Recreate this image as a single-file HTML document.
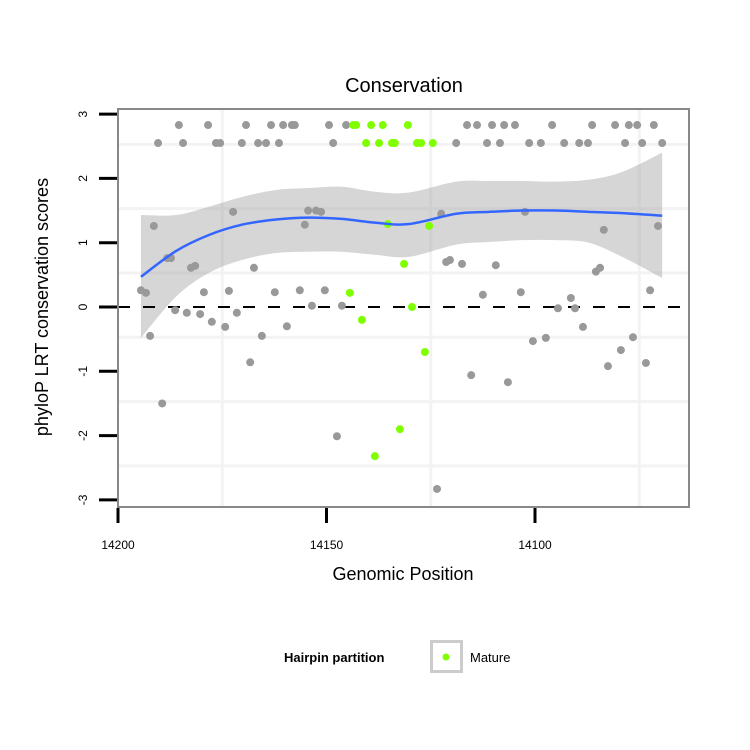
<!DOCTYPE html>
<html><head><meta charset="utf-8"><style>
body{margin:0;background:#fff;}
svg{display:block;font-family:"Liberation Sans",sans-serif;}
</style></head><body>
<svg id="chart" width="750" height="750">
<rect x="0" y="0" width="750" height="750" fill="#fff"/>
<g id="grid"></g>
<g id="ribbon"></g>
<g id="points"></g>
<g id="fitline"></g>
<rect x="118" y="109" width="571" height="398" fill="none" stroke="#888" stroke-width="2"/>
<g id="axes"></g>
<text x="404" y="92" font-size="20" text-anchor="middle">Conservation</text>
<text x="403" y="580" font-size="18" text-anchor="middle">Genomic Position</text>
<text transform="translate(48,307) rotate(-90)" font-size="18" text-anchor="middle">phyloP LRT conservation scores</text>
<g>
<text x="284" y="662" font-size="13" font-weight="bold">Hairpin partition</text>
<rect x="431.5" y="641.5" width="30" height="30" fill="#fff" stroke="#ccc" stroke-width="3"/>
<circle cx="446" cy="657" r="3.5" fill="#7FFF00"/>
<text x="470" y="662" font-size="13">Mature</text>
</g>
</svg>
<script>
const grayPos=[14194.5,14193.3,14191.4,14192.3,14189.4,14188.2,14187.3,14186.3,14183.5,14182.5,14181.5,14180.3,14179.4,14177.5,14174.3,14173.4,14172.4,14171.5,14168.3,14167.4,14165.5,14162.4,14159.5,14156.4,14155.2,14154.4,14152.5,14151.3,14153.5,14150.4,14147.5,14146.3,
14122.5,14123.5,14121.3,14120.4,14117.5,14115.3,14112.5,14109.4,14106.5,14103.4,14102.4,14100.5,14097.4,14094.5,14091.4,14090.4,14088.5,14085.4,14084.4,14083.5,14082.5,14079.4,14076.5,14073.4,14072.4,14070.5,
14185.4,14178.4,14169.3,14163.3,14160.4,14158.3,14157.6,14149.4,14145.3,14116.3,14113.9,14110.3,14107.4,14104.8,14095.9,14086.3,14080.8,14077.5,14075.5,14071.5,
14190.4,14184.4,14176.5,14175.5,14170.3,14166.4,14164.5,14161.4,14148.4,14118.9,14111.5,14108.4,14101.4,14098.6,14093.0,14089.4,14087.3,14078.4,14074.3,14069.5];
const grayVal=[0.26,0.22,1.26,-0.45,-1.50,0.76,0.76,-0.05,-0.09,0.61,0.64,-0.11,0.23,-0.23,-0.31,0.25,1.48,-0.09,-0.86,0.61,-0.45,0.23,-0.30,0.26,1.28,1.50,1.50,1.48,0.02,0.26,-2.01,0.02,
1.45,-2.83,0.70,0.73,0.67,-1.06,0.19,0.65,-1.17,0.23,1.48,-0.53,-0.48,-0.02,0.14,-0.02,-0.31,0.55,0.61,1.20,-0.92,-0.67,-0.47,-0.87,0.26,1.26,
2.83,2.83,2.83,2.83,2.83,2.83,2.83,2.83,2.83,2.83,2.83,2.83,2.83,2.83,2.83,2.83,2.83,2.83,2.83,2.83,
2.55,2.55,2.55,2.55,2.55,2.55,2.55,2.55,2.55,2.55,2.55,2.55,2.55,2.55,2.55,2.55,2.55,2.55,2.55,2.55];
const maturePos=[14144.4,14141.5,14138.4,14135.3,14132.4,14131.4,14129.5,14126.4,14125.4,14143.6,14142.9,14139.3,14136.5,14130.5,14140.5,14137.4,14134.3,14133.6,14128.3,14127.3,14124.5];
const matureVal=[0.22,-0.20,-2.32,1.29,-1.90,0.67,0.00,-0.70,1.26,2.83,2.83,2.83,2.83,2.83,2.55,2.55,2.55,2.55,2.55,2.55,2.55];
const fitPos=[14194.5,14186.1,14178.2,14170.3,14162.1,14154.2,14146.3,14138.1,14130.2,14118.9,14111.0,14103.1,14095.0,14087.1,14079.1,14069.5];
const fitVal=[0.47,0.87,1.12,1.28,1.36,1.39,1.37,1.31,1.29,1.45,1.48,1.50,1.50,1.48,1.46,1.42];
const fitUpper=[1.43,1.43,1.56,1.71,1.82,1.85,1.87,1.79,1.78,1.95,1.96,1.96,1.95,1.98,2.10,2.40];
const fitLower=[-0.48,0.16,0.53,0.73,0.84,0.86,0.86,0.81,0.78,0.97,1.01,1.04,1.04,1.00,0.78,0.45];
const xTicks=[14200,14150,14100];
const yTicks=[-3,-2,-1,0,1,2,3];
const NS='http://www.w3.org/2000/svg';
function X(p){return 118+(14200-p)*4.17;}
function Y(v){return 307-v*64.3;}
function mk(tag,attrs,parent){const e=document.createElementNS(NS,tag);for(const k in attrs)e.setAttribute(k,attrs[k]);parent.appendChild(e);return e;}
const grid=document.getElementById('grid');
[14175,14125,14075].forEach(p=>{const l=mk('line',{x1:X(p),x2:X(p),y1:109,y2:507,stroke:'#f3f3f3','stroke-width':3},grid);

});
[2.53,1.53,0.53,-0.47,-1.47,-2.47].forEach(v=>{const l=mk('line',{x1:118,x2:689,y1:Y(v),y2:Y(v),stroke:'#f3f3f3','stroke-width':3},grid);

});
function smooth(pts){let d='M'+pts[0][0]+','+pts[0][1];for(let i=0;i<pts.length-1;i++){const p0=pts[Math.max(0,i-1)],p1=pts[i],p2=pts[i+1],p3=pts[Math.min(pts.length-1,i+2)];
d+=' C'+(p1[0]+(p2[0]-p0[0])/6)+','+(p1[1]+(p2[1]-p0[1])/6)+' '+(p2[0]-(p3[0]-p1[0])/6)+','+(p2[1]-(p3[1]-p1[1])/6)+' '+p2[0]+','+p2[1];}return d;}
const up=fitPos.map((p,i)=>[X(p),Y(fitUpper[i])]);
const lo=fitPos.map((p,i)=>[X(p),Y(fitLower[i])]).reverse();
let rd=smooth(up)+' L'+lo[0][0]+','+lo[0][1]+smooth(lo).slice(smooth(lo).indexOf(' '))+' Z';
const rib=mk('path',{d:rd,fill:'#999','fill-opacity':0.4},document.getElementById('ribbon'));


const pg=document.getElementById('points');
const zl=mk('line',{x1:118,x2:689,y1:Y(0),y2:Y(0),stroke:'#000','stroke-width':2,'stroke-dasharray':'12,13'},pg);


grayPos.forEach((p,i)=>{const c=mk('circle',{cx:X(p),cy:Y(grayVal[i]),r:4,fill:'#999'},pg);

});
maturePos.forEach((p,i)=>{const c=mk('circle',{cx:X(p),cy:Y(matureVal[i]),r:4,fill:'#7FFF00'},pg);

});
const fl=mk('path',{d:smooth(fitPos.map((p,i)=>[X(p),Y(fitVal[i])])),fill:'none',stroke:'#3366FF','stroke-width':2.5},document.getElementById('fitline'));


const ax=document.getElementById('axes');
yTicks.forEach(v=>{const t=mk('line',{x1:99,x2:117,y1:Y(v),y2:Y(v),stroke:'#000','stroke-width':3},ax);


const tx=mk('text',{transform:'translate(87,'+Y(v)+') rotate(-90)','font-size':12,'text-anchor':'middle'},ax);tx.textContent=v;

});
xTicks.forEach(p=>{const t=mk('line',{x1:X(p),x2:X(p),y1:508,y2:523,stroke:'#000','stroke-width':3},ax);


const tx=mk('text',{x:X(p),y:549,'font-size':12,'text-anchor':'middle'},ax);tx.textContent=p;

});
</script>
</body></html>
